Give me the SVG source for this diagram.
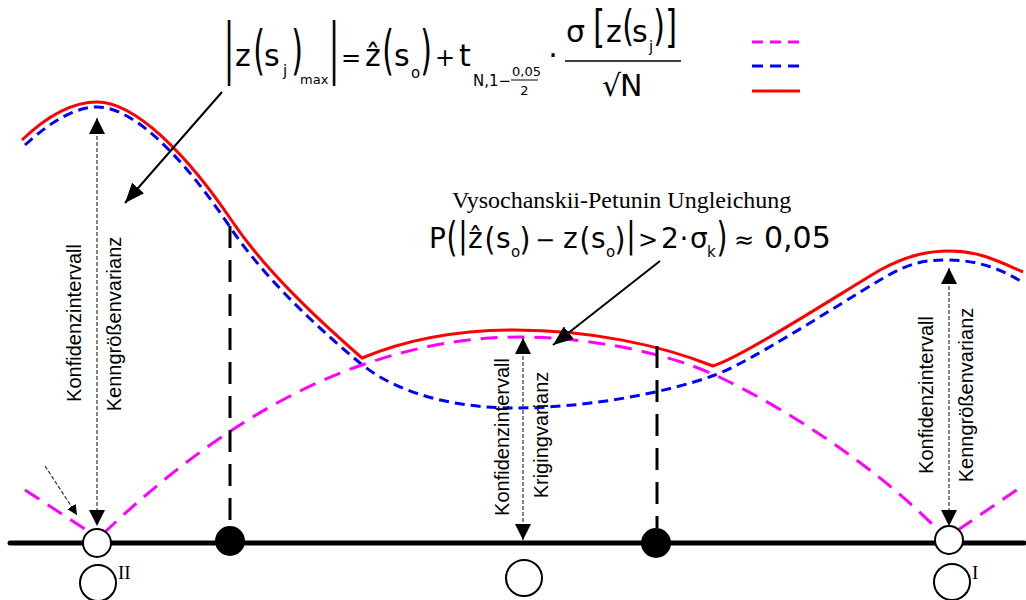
<svg xmlns="http://www.w3.org/2000/svg" width="1026" height="600" viewBox="0 0 1026 600">
<style>
.m{font-family:"DejaVu Sans",sans-serif;font-size:30px;fill:#000}
.m2{font-family:"DejaVu Sans",sans-serif;font-size:28px;fill:#000}
.s{font-family:"DejaVu Sans",sans-serif;font-size:15px;fill:#000}
.s2{font-family:"DejaVu Sans",sans-serif;font-size:13px;fill:#000}
.op{font-family:"DejaVu Sans",sans-serif;font-size:24px;fill:#000}
.lab{font-family:"Liberation Sans",Arial,sans-serif;font-size:20px;fill:#000}
.ser{font-family:"Liberation Serif","Times New Roman",serif;fill:#000}
.red{fill:none;stroke:#ff0000;stroke-width:3}
.blue{fill:none;stroke:#0000ff;stroke-width:3;stroke-dasharray:10 6}
.mag{fill:none;stroke:#ff00ff;stroke-width:3;stroke-dasharray:17 10}
.vd{fill:none;stroke:#000;stroke-width:3;stroke-dasharray:22 12}
.dot{fill:none;stroke:#333;stroke-width:1.2;stroke-dasharray:4 2}
.sol{fill:none;stroke:#000;stroke-width:2}
.oc{fill:#fff;stroke:#000;stroke-width:2}
</style>
<defs>
<marker id="ah" viewBox="0 0 10 10" refX="10" refY="5" markerWidth="16" markerHeight="16" markerUnits="userSpaceOnUse" orient="auto-start-reverse"><path d="M0,0 L10,5 L0,10 z" fill="#000"/></marker>
<marker id="ahs" viewBox="0 0 10 10" refX="10" refY="5" markerWidth="10" markerHeight="10" markerUnits="userSpaceOnUse" orient="auto"><path d="M0,0 L10,5 L0,10 z" fill="#000"/></marker>
<marker id="ahb" viewBox="0 0 10 10" refX="10" refY="5" markerWidth="20" markerHeight="16" markerUnits="userSpaceOnUse" orient="auto" preserveAspectRatio="none"><path d="M0,0 L10,5 L0,10 z" fill="#000"/></marker>
</defs>

<g id="curves">
<path class="blue" d="M25,145 C50,122 75,107 97,107 C135,107 185,160 230,227 C265,279 320,330 360,363 C400,396 460,408 515,408 C580,408 660,395 715,375 C750,362 830,310 880,280 C910,262 925,260 948,260 C975,260 1000,268 1022,282"/>
<path class="mag" d="M25,490 L88,531"/>
<path class="mag" d="M104,533 C170,470 260,400 362,365 C420,345 470,337 520,337 C580,337 660,350 715,375 C790,410 880,470 940,532"/>
<path class="mag" d="M958,530 L1024,485"/>
<path class="red" d="M22,140 C47,116 73,102 97,102 C136,102 188,156 232,221 C267,273 322,323 362,358 C410,338 460,330 515,330 C590,330 660,345 713,366 C740,358 830,300 880,270 C910,254 930,251 950,251 C980,251 1000,262 1023,272"/>
</g>

<g id="legend">
<line class="mag" x1="752" y1="42" x2="800" y2="42" style="stroke-dasharray:11 7"/>
<line class="blue" x1="752" y1="66" x2="800" y2="66" style="stroke-dasharray:11 7"/>
<line class="red" x1="752" y1="91" x2="800" y2="91"/>
</g>

<g id="connectors">
<line class="vd" x1="230" y1="226" x2="230" y2="528"/>
<line class="vd" x1="657" y1="346" x2="657" y2="528"/>
<line class="dot" x1="97" y1="118" x2="97" y2="526" marker-start="url(#ah)" marker-end="url(#ah)"/>
<line class="dot" x1="523" y1="338" x2="523" y2="540" marker-start="url(#ah)" marker-end="url(#ah)"/>
<line class="dot" x1="949" y1="268" x2="949" y2="526" marker-start="url(#ah)" marker-end="url(#ah)"/>
<line class="dot" x1="45" y1="466" x2="77" y2="515" marker-end="url(#ahs)"/>
<line class="sol" x1="222" y1="92" x2="125" y2="203" marker-end="url(#ahb)"/>
<line class="sol" x1="660" y1="261" x2="553" y2="345" marker-end="url(#ahb)"/>
</g>

<g id="axis">
<line x1="10" y1="543" x2="1024" y2="543" stroke="#000" stroke-width="5" stroke-linecap="round"/>
</g>

<g id="point-II"><circle class="oc" cx="97" cy="543" r="14"/><circle class="oc" cx="98" cy="583" r="18"/><text class="ser" x="118" y="579" font-size="19">II</text></g>
<g id="point-s1"><circle cx="230" cy="541" r="15" fill="#000"/></g>
<g id="point-s0"><circle class="oc" cx="524" cy="578" r="18"/></g>
<g id="point-s2"><circle cx="656" cy="543" r="15" fill="#000"/></g>
<g id="point-I"><circle class="oc" cx="949" cy="540" r="14"/><circle class="oc" cx="952" cy="582" r="18"/><text class="ser" x="972" y="579" font-size="19">I</text></g>

<g id="labels">
<text class="lab" transform="translate(81,323) rotate(-90)" text-anchor="middle">Konfidenzintervall</text>
<text class="lab" transform="translate(121,324) rotate(-90)" text-anchor="middle">Kenngrößenvarianz</text>
<text class="lab" transform="translate(509,437) rotate(-90)" text-anchor="middle">Konfidenzintervall</text>
<text class="lab" transform="translate(548,435) rotate(-90)" text-anchor="middle">Krigingvarianz</text>
<text class="lab" transform="translate(933,395) rotate(-90)" text-anchor="middle">Konfidenzintervall</text>
<text class="lab" transform="translate(973,395) rotate(-90)" text-anchor="middle">Kenngrößenvarianz</text>
<text class="ser" x="452" y="208" font-size="24">Vysochanskii-Petunin Ungleichung</text>
</g>

<g id="formula-max">
<text class="m" transform="translate(229,53) scale(1,2.2)" y="7.9" text-anchor="middle">|</text>
<text class="m" x="235" y="66">z</text>
<text class="m" transform="translate(259,52) scale(1,1.8)" y="9.3" text-anchor="middle">(</text>
<text class="m" x="264" y="66">s</text>
<text class="s" x="283" y="76">j</text>
<text class="m" transform="translate(297,52) scale(1,1.8)" y="9.3" text-anchor="middle">)</text>
<text class="s" x="300" y="84" style="font-size:13px">max</text>
<text class="m" transform="translate(334,53) scale(1,2.2)" y="7.9" text-anchor="middle">|</text>
<text class="op" x="341" y="66">=</text>
<text class="m" x="365" y="66">ẑ</text>
<text class="m" transform="translate(388,52) scale(1,1.8)" y="9.3" text-anchor="middle">(</text>
<text class="m" x="394" y="66">s</text>
<text class="s" x="411" y="78">o</text>
<text class="m" transform="translate(426,52) scale(1,1.8)" y="9.3" text-anchor="middle">)</text>
<text class="op" x="435" y="66">+</text>
<text class="m" x="459" y="66">t</text>
<text class="s" x="473" y="86">N,1−</text>
<text class="s2" x="512" y="76">0,05</text>
<line x1="511" y1="80" x2="538" y2="80" stroke="#000" stroke-width="1"/>
<text class="s2" x="524.5" y="95" text-anchor="middle">2</text>
<text class="m" x="553" y="66" text-anchor="middle">·</text>
<text class="m" x="566" y="42">σ</text>
<text class="m" transform="translate(599,28) scale(1,1.5)" y="9.3" text-anchor="middle">[</text>
<text class="m" x="606" y="42">z</text>
<text class="m" transform="translate(628,28) scale(1,1.4)" y="9.3" text-anchor="middle">(</text>
<text class="m" x="632" y="42">s</text>
<text class="s" x="649" y="52">j</text>
<text class="m" transform="translate(659,28) scale(1,1.4)" y="9.3" text-anchor="middle">)</text>
<text class="m" transform="translate(671,28) scale(1,1.5)" y="9.3" text-anchor="middle">]</text>
<line x1="565" y1="61" x2="681" y2="61" stroke="#000" stroke-width="1.5"/>
<text class="m" x="602" y="96">√</text>
<text class="m" x="620" y="96">N</text>
</g>

<g id="formula-vp">
<text class="m2" x="429" y="248">P</text>
<text class="m2" transform="translate(452,238) scale(1,1.45)" y="8.7" text-anchor="middle">(</text>
<text class="m2" transform="translate(463,238) scale(1,1.29)" y="7.3" text-anchor="middle">|</text>
<text class="m2" x="468" y="248">ẑ</text>
<text class="m2" transform="translate(490,240) scale(1,1.12)" y="8.7" text-anchor="middle">(</text>
<text class="m2" x="496" y="248">s</text>
<text class="s" x="511" y="257">o</text>
<text class="m2" transform="translate(525,240) scale(1,1.12)" y="8.7" text-anchor="middle">)</text>
<text class="op" x="535" y="248">−</text>
<text class="m2" x="563" y="248">z</text>
<text class="m2" transform="translate(585,240) scale(1,1.12)" y="8.7" text-anchor="middle">(</text>
<text class="m2" x="591" y="248">s</text>
<text class="s" x="606" y="257">o</text>
<text class="m2" transform="translate(620,240) scale(1,1.12)" y="8.7" text-anchor="middle">)</text>
<text class="m2" transform="translate(631,238) scale(1,1.29)" y="7.3" text-anchor="middle">|</text>
<text class="op" x="638" y="248">&gt;</text>
<text class="m2" x="661" y="248">2</text>
<text class="m2" x="684" y="248" text-anchor="middle">·</text>
<text class="m2" x="690" y="248">σ</text>
<text class="s" x="707" y="257">k</text>
<text class="m2" transform="translate(722,238) scale(1,1.45)" y="8.7" text-anchor="middle">)</text>
<text class="op" x="734" y="248">≈</text>
<text class="m2" x="764" y="248" style="font-size:30px">0,05</text>
</g>
</svg>
